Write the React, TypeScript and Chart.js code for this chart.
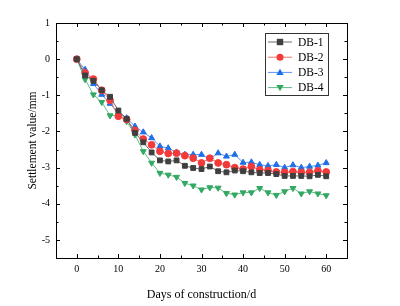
import React, { useEffect, useRef } from "react";
import { Chart, registerables } from "chart.js";

Chart.register(...registerables);

const days = [0, 2, 4, 6, 8, 10, 12, 14, 16, 18, 20, 22, 24, 26, 28, 30, 32, 34, 36, 38, 40, 42, 44, 46, 48, 50, 52, 54, 56, 58, 60];

const db1 = [0, -0.45, -0.6, -0.86, -1.04, -1.42, -1.65, -2.04, -2.3, -2.58, -2.8, -2.83, -2.8, -2.95, -3.01, -3.04, -2.97, -3.1, -3.13, -3.08, -3.1, -3.13, -3.15, -3.15, -3.18, -3.23, -3.23, -3.23, -3.24, -3.2, -3.24];
const db2 = [0, -0.38, -0.55, -0.86, -1.14, -1.58, -1.67, -1.97, -2.21, -2.37, -2.55, -2.61, -2.6, -2.67, -2.74, -2.87, -2.74, -2.87, -2.92, -3.0, -3.04, -2.97, -3.06, -3.08, -3.12, -3.13, -3.11, -3.13, -3.13, -3.09, -3.12];
const db3 = [0, -0.29, -0.68, -0.98, -1.23, -1.5, -1.63, -1.86, -2.02, -2.18, -2.41, -2.46, -2.58, -2.64, -2.64, -2.64, -2.76, -2.6, -2.69, -2.64, -2.86, -2.85, -2.92, -2.95, -2.92, -3.0, -2.93, -3.0, -2.97, -2.94, -2.87];
const db4 = [0, -0.56, -0.98, -1.19, -1.56, -1.55, -1.72, -2.09, -2.55, -2.87, -3.15, -3.2, -3.26, -3.43, -3.5, -3.61, -3.55, -3.56, -3.71, -3.75, -3.69, -3.69, -3.57, -3.69, -3.76, -3.66, -3.57, -3.72, -3.66, -3.72, -3.77];

const seriesNames = ["DB-1", "DB-2", "DB-3", "DB-4"];
const seriesValues = [db1, db2, db3, db4];
const pointColors = ["#3f3f3f", "#f23a3a", "#1f6fe8", "#33a862"];
const lineColors = ["#6a6a6a", "#f57070", "#5a94ee", "#5fbd85"];
const pointStyles = ["rect", "circle", "triangle", "triangle"];
const pointRotations = [0, 0, 0, 180];

const xTicks = [0, 10, 20, 30, 40, 50, 60];
const yTicks = [1, 0, -1, -2, -3, -4, -5];

const FONT = "'Liberation Serif', 'Times New Roman', serif";

const framePlugin = {
  id: "frameTicks",
  afterDraw(chart: any) {
    const { ctx, chartArea } = chart;
    const { left, right, top, bottom } = chartArea;
    const xs = chart.scales.x;
    const ys = chart.scales.y;
    ctx.save();
    ctx.strokeStyle = "#000";
    ctx.lineWidth = 1;
    ctx.strokeRect(Math.round(left) + 0.5, Math.round(top) + 0.5, Math.round(right - left), Math.round(bottom - top));
    ctx.beginPath();
    for (let v = -5; v <= 65; v += 5) {
      const px = Math.round(xs.getPixelForValue(v)) + 0.5;
      const len = v % 10 === 0 ? 4 : 2.5;
      if (v <= -5 || v >= 65) continue;
      ctx.moveTo(px, bottom);
      ctx.lineTo(px, bottom - len);
      ctx.moveTo(px, top);
      ctx.lineTo(px, top + len);
    }
    for (let v = -5.5; v <= 1; v += 0.5) {
      if (v <= -5.5 || v >= 1) continue;
      const py = Math.round(ys.getPixelForValue(v)) + 0.5;
      const len = Number.isInteger(v) ? 4 : 2.5;
      ctx.moveTo(left, py);
      ctx.lineTo(left + len, py);
      ctx.moveTo(right, py);
      ctx.lineTo(right - len, py);
    }
    ctx.stroke();

    // legend box
    const bx = 265.5, by = 33.5, bw = 63, bh = 62;
    ctx.fillStyle = "#fff";
    ctx.fillRect(bx, by, bw, bh);
    ctx.strokeStyle = "#333";
    ctx.strokeRect(bx, by, bw, bh);
    ctx.font = `11.5px ${FONT}`;
    ctx.textBaseline = "middle";
    ctx.textAlign = "left";
    for (let i = 0; i < seriesNames.length; i++) {
      const y = 42 + i * 15.2;
      ctx.strokeStyle = lineColors[i];
      ctx.lineWidth = 1;
      ctx.beginPath();
      ctx.moveTo(268, y);
      ctx.lineTo(292, y);
      ctx.stroke();
      ctx.fillStyle = pointColors[i];
      const m = 3.2;
      ctx.beginPath();
      if (pointStyles[i] === "rect") {
        ctx.rect(280 - m, y - m, 2 * m, 2 * m);
      } else if (pointStyles[i] === "circle") {
        ctx.arc(280, y, m + 0.3, 0, Math.PI * 2);
      } else if (pointRotations[i] === 0) {
        ctx.moveTo(280, y - m - 0.5);
        ctx.lineTo(280 + m + 0.5, y + m - 0.5);
        ctx.lineTo(280 - m - 0.5, y + m - 0.5);
        ctx.closePath();
      } else {
        ctx.moveTo(280, y + m + 0.5);
        ctx.lineTo(280 + m + 0.5, y - m + 0.5);
        ctx.lineTo(280 - m - 0.5, y - m + 0.5);
        ctx.closePath();
      }
      ctx.fill();
      ctx.fillStyle = "#000";
      ctx.fillText(seriesNames[i], 298, y + 0.5);
    }
    ctx.restore();
  },
};

export default function App() {
  const ref = useRef<HTMLCanvasElement>(null);
  useEffect(() => {
    if (!ref.current) return;
    const chart = new Chart(ref.current, {
      type: "line",
      data: {
        datasets: seriesNames.map((name, i) => ({
          label: name,
          data: days.map((d, j) => ({ x: d, y: seriesValues[i][j] })),
          borderColor: lineColors[i],
          backgroundColor: pointColors[i],
          pointBackgroundColor: pointColors[i],
          pointBorderColor: pointColors[i],
          pointStyle: pointStyles[i] as any,
          rotation: pointRotations[i],
          pointRadius: 3.4,
          borderWidth: 1,
          tension: 0,
        })),
      },
      options: {
        animation: false,
        responsive: false,
        events: [],
        layout: { padding: { left: 21, right: 53, top: 23, bottom: 0 } },
        plugins: { legend: { display: false }, tooltip: { enabled: false } },
        scales: {
          x: {
            type: "linear",
            min: -5,
            max: 65,
            grid: { display: false, drawTicks: false },
            border: { display: false },
            afterBuildTicks: (s: any) => {
              s.ticks = xTicks.map((v) => ({ value: v }));
            },
            afterFit: (s: any) => {
              s.height = 48;
            },
            ticks: { color: "#000", font: { family: FONT, size: 10 }, padding: 5, maxRotation: 0 },
            title: { display: true, text: "Days of construction/d", color: "#000", font: { family: FONT, size: 12 }, padding: { top: 12 } },
          },
          y: {
            type: "linear",
            min: -5.5,
            max: 1,
            grid: { display: false, drawTicks: false },
            border: { display: false },
            afterBuildTicks: (s: any) => {
              s.ticks = yTicks.map((v) => ({ value: v }));
            },
            afterFit: (s: any) => {
              s.width = 35;
            },
            ticks: { color: "#000", font: { family: FONT, size: 10 }, padding: 6 },
            title: { display: true, text: "Settlement value/mm", color: "#000", font: { family: FONT, size: 11.5 }, padding: { top: 5, bottom: 4 } },
          },
        },
      },
      plugins: [framePlugin],
    });
    return () => chart.destroy();
  }, []);
  return (
    <div style={{ position: "fixed", left: 0, top: 0, width: 400, height: 306, background: "#fff" }}>
      <canvas ref={ref} width={400} height={306} />
    </div>
  );
}
